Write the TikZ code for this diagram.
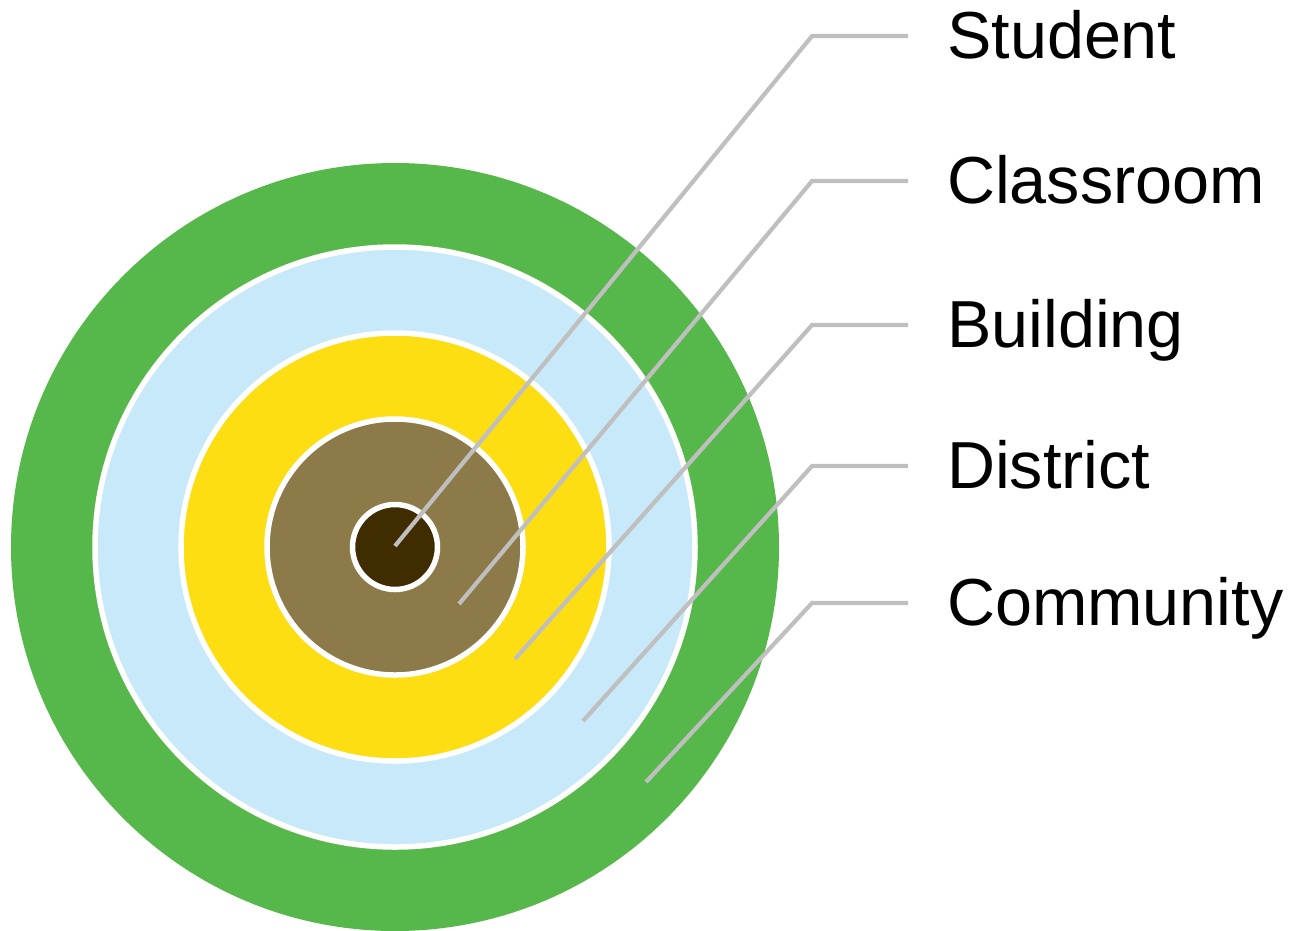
\documentclass[tikz,border=0pt]{standalone}
\usepackage{fontspec}
\setmainfont{Liberation Sans}
\definecolor{ringgreen}{HTML}{56B74A}
\definecolor{ringblue}{HTML}{C8E9F9}
\definecolor{ringyellow}{HTML}{FCDE12}
\definecolor{ringbrown}{HTML}{8C7A48}
\definecolor{ringdark}{HTML}{3F2C00}
\definecolor{leadgrey}{HTML}{BFBFBF}
\tikzset{
  ring/.style={draw=white, line width=5.5pt},
  leader/.style={draw=leadgrey, line width=4.2pt, line cap=butt},
  lab/.style={anchor=base west, inner sep=0pt, font=\fontsize{66.5}{79}\selectfont, text=black}
}
\begin{document}
\begin{tikzpicture}[x=1pt,y=-1pt]
\useasboundingbox (0,0) rectangle (1295,930);
\coordinate (c) at (395,547);
% rings
\fill[ringgreen] (c) circle [radius=384pt];
\filldraw[ring, fill=ringblue] (c) circle [radius=300pt];
\filldraw[ring, fill=ringyellow] (c) circle [radius=214pt];
\filldraw[ring, fill=ringbrown] (c) circle [radius=128pt];
\filldraw[ring, fill=ringdark] (c) circle [radius=42.5pt];
% labels
\node[lab] (student) at (947,58) {Student};
\node[lab] (classroom) at (947,203) {Classroom};
\node[lab] (building) at (947,347) {Building};
\node[lab] (district) at (947,488) {District};
\node[lab] (community) at (947,625) {Community};
% leader coordinates
\coordinate (sA) at (395,546); \coordinate (sB) at (812,36);  \coordinate (sC) at (908,36);
\coordinate (cA) at (459,604); \coordinate (cB) at (812,181); \coordinate (cC) at (908,181);
\coordinate (bA) at (515,659); \coordinate (bB) at (812,325); \coordinate (bC) at (908,325);
\coordinate (dA) at (583,721); \coordinate (dB) at (812,466); \coordinate (dC) at (908,466);
\coordinate (mA) at (646,782); \coordinate (mB) at (812,603); \coordinate (mC) at (908,603);
\draw[leader] (sA) -- (sB) -- (sC);
\draw[leader] (cA) -- (cB) -- (cC);
\draw[leader] (bA) -- (bB) -- (bC);
\draw[leader] (dA) -- (dB) -- (dC);
\draw[leader] (mA) -- (mB) -- (mC);
\end{tikzpicture}
\end{document}
